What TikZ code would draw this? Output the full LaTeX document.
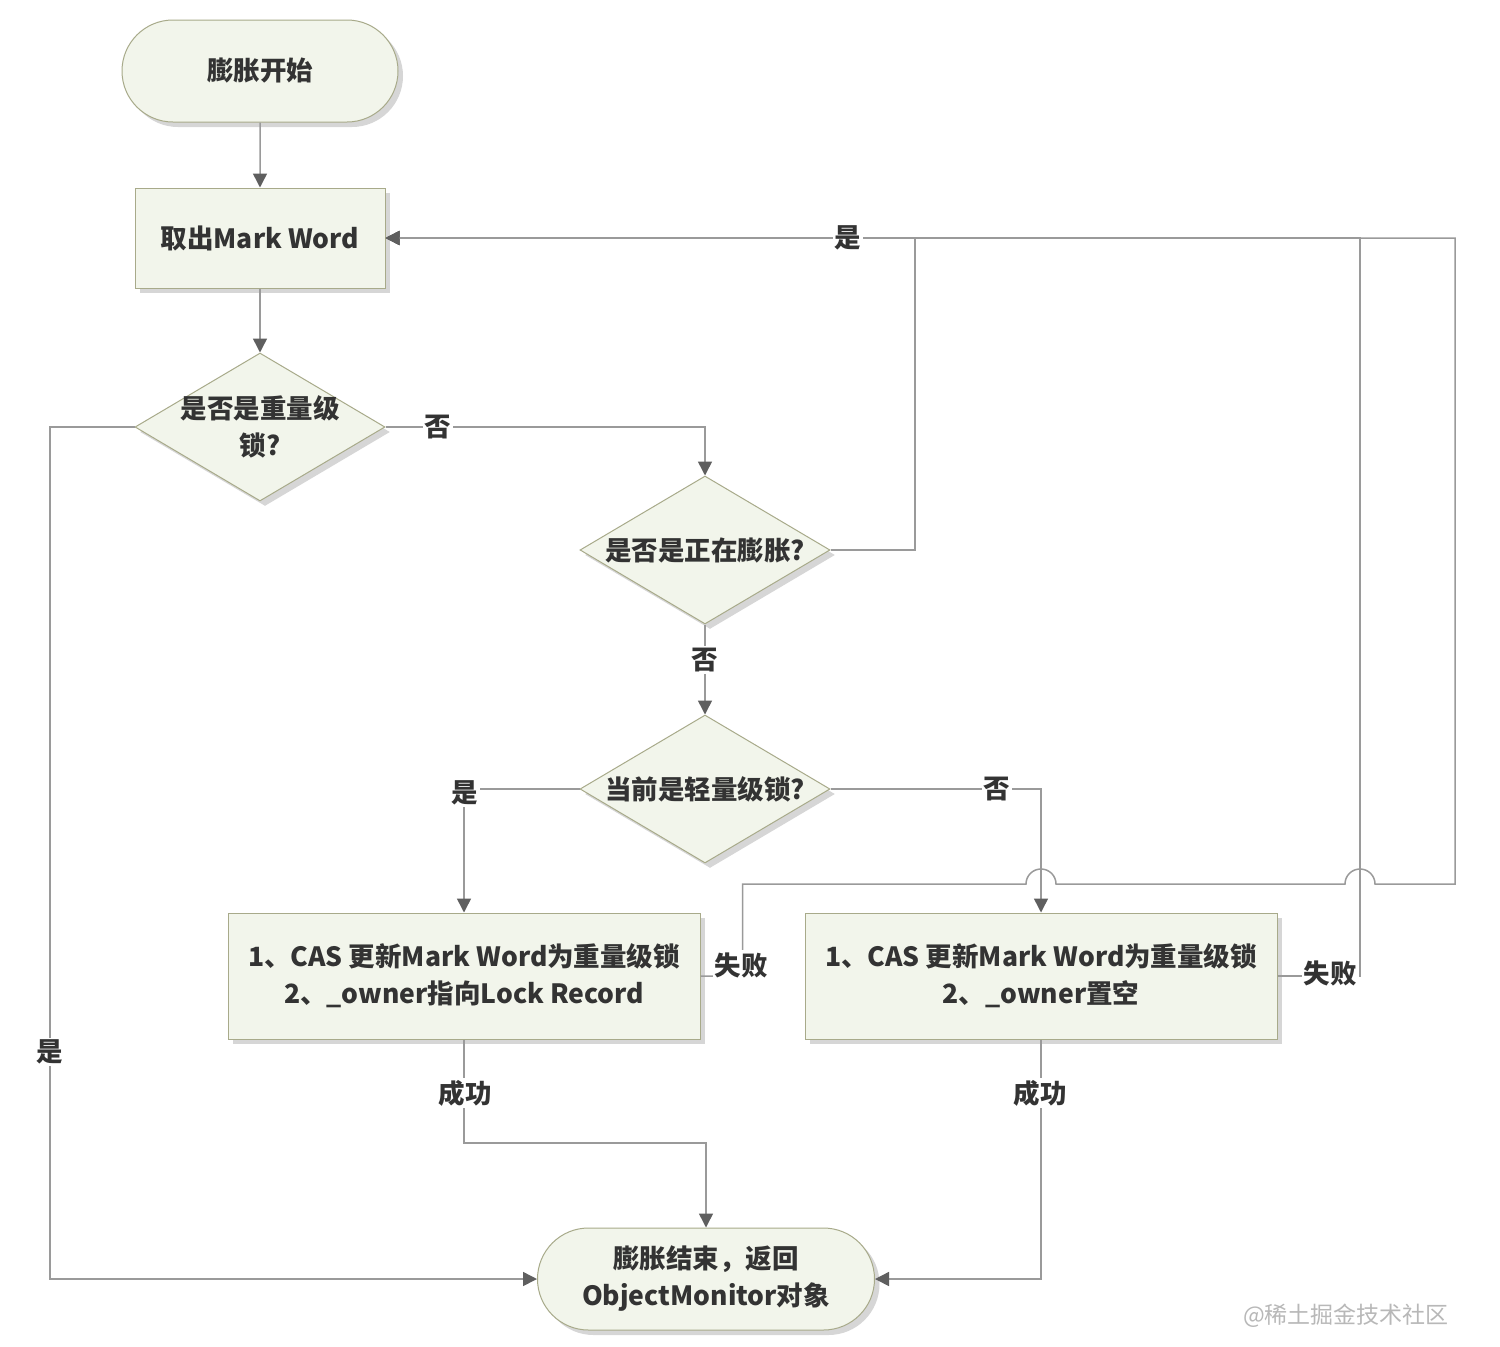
\documentclass[tikz,border=0pt]{standalone}
\usepackage{fontspec}
\setmainfont{Noto Sans CJK SC}
\usetikzlibrary{shapes.geometric,shapes.misc,arrows.meta,shadows}
\definecolor{boxfill}{HTML}{F2F5EB}
\definecolor{boxline}{HTML}{A8AA8A}
\definecolor{conn}{HTML}{9A9A9A}
\definecolor{tipc}{HTML}{5F5F5F}
\definecolor{txt}{HTML}{333333}
\begin{document}
\begin{tikzpicture}[x=1pt,y=-1pt,
  font=\fontsize{26.5}{37}\selectfont\bfseries, text=txt,
  shade/.style={drop shadow={shadow xshift=5pt,shadow yshift=-5pt,opacity=0.16,fill=black}},
  base/.style={draw=boxline, fill=boxfill, line width=1pt, inner sep=0pt, align=center, shade},
  term/.style={base, rounded rectangle, minimum height=102pt},
  proc/.style={base, rectangle},
  decide/.style={base, diamond, minimum width=250pt, minimum height=148pt},
  line/.style={draw=conn, line width=1.5pt},
  arr/.style={line, -{Triangle[length=14pt,width=14pt,color=tipc]}},
  lab/.style={fill=white, inner sep=2pt, text=txt}]
\useasboundingbox[fill=white] (0,0) rectangle (1500,1347);

% nodes
\node[term, minimum width=276pt] (start) at (260,71) {膨胀开始};
\node[proc, minimum width=250pt, minimum height=100pt] (mw) at (260,238) {取出Mark Word};
\node[decide, label={[align=center,text=txt]center:是否是重量级\\锁?}] (d1) at (260,427) {};
\node[decide, label={[align=center,text=txt]center:是否是正在膨胀?}] (d2) at (705,550) {};
\node[decide, label={[align=center,text=txt]center:当前是轻量级锁?}] (d3) at (705,789) {};
\node[proc, minimum width=472pt, minimum height=126pt] (A) at (464,976) {1、CAS 更新Mark Word为重量级锁\\2、\_owner指向Lock Record};
\node[proc, minimum width=472pt, minimum height=126pt] (B) at (1041,976) {1、CAS 更新Mark Word为重量级锁\\2、\_owner置空};
\node[term, minimum width=337pt] (end) at (706,1279) {膨胀结束，返回\\ObjectMonitor对象};

% connectors
\draw[arr] (start) -- (mw);
\draw[arr] (mw) -- (d1);
\draw[arr] (d1.east) -| (d2.north);
\draw[arr] (d1.west) -- (50,427) |- (end.west);
\draw[arr] (d2.east) -| (915,238) -- (mw.east);
\draw[arr] (d2.south) -- (d3.north);
\draw[arr] (d3.west) -| (A.north);
\draw[arr] (d3.east) -| (B.north);
\draw[arr] (A.east) -- ++(42,0) |- (1026,884) arc(180:360:15) -- (1345,884) arc(180:360:15) -- (1455,884) |- (mw.east);
\draw[arr] (B.east) -| (1360,238) -- (mw.east);
\draw[arr] (A.south) -- (464,1143) -| (end.north);
\draw[arr] (B.south) |- (end.east);

% labels
\node[lab] (l1) at (438,427) {否};
\node[lab] (l2) at (50,1052) {是};
\node[lab] (l3) at (848,238) {是};
\node[lab] (l4) at (705,660) {否};
\node[lab] (l5) at (465,793) {是};
\node[lab] (l6) at (997,789) {否};
\node[lab] (l7) at (741,965) {失败};
\node[lab] (l8) at (1330,973) {失败};
\node[lab] (l9) at (465,1093) {成功};
\node[lab] (l10) at (1040,1093) {成功};

\node[text=black!28, font=\fontsize{23}{23}\selectfont\mdseries] (wm) at (1346,1316) {@稀土掘金技术社区};
\end{tikzpicture}
\end{document}
